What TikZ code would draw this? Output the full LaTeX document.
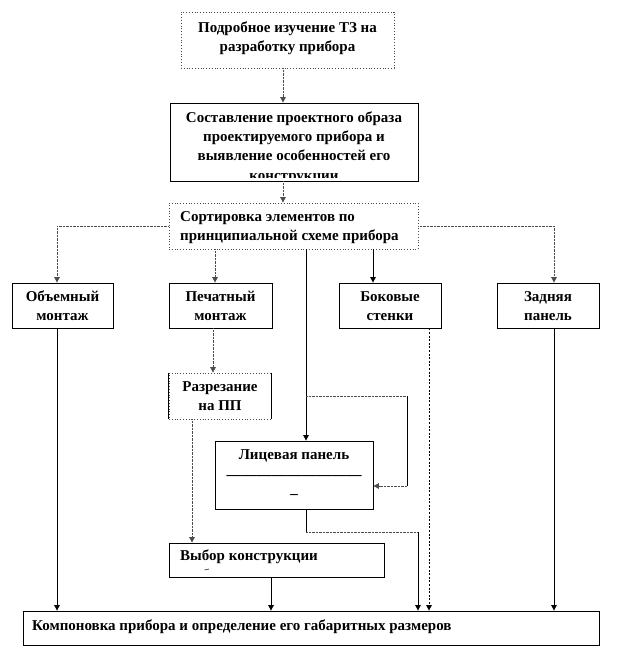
\documentclass[tikz,border=0pt]{standalone}
\usepackage{fontspec}
\setmainfont{Liberation Serif}
\usetikzlibrary{arrows.meta}
\begin{document}
\begin{tikzpicture}[x=1pt,y=-1pt,
  every node/.style={font=\fontsize{15}{19}\selectfont\bfseries, inner sep=0pt},
  box/.style={draw=black, line width=0.8pt, fill=white},
  dbox/.style={draw=black!70, line width=0.8pt, dotted, fill=white},
  ln/.style={line width=0.8pt, black},
  dln/.style={line width=0.8pt, black!70, dash pattern=on 0.8pt off 0.6pt},
  bln/.style={line width=0.8pt, black, dash pattern=on 2pt off 1.6pt},
  arr/.style={-{Triangle[width=5.5pt,length=5.5pt]}},
  lbl/.style={align=center}
]
\useasboundingbox (0,0) rectangle (622,656);
\fill[white] (0,0) rectangle (622,656);

% x positions
\coordinate (x57) at (57,0);
\coordinate (x192) at (192,0);
\coordinate (x213) at (213,0);
\coordinate (x215) at (215,0);
\coordinate (x271) at (271,0);
\coordinate (x283) at (283,0);
\coordinate (x306) at (306,0);
\coordinate (x373) at (373,0);
\coordinate (x418) at (418,0);
\coordinate (x429) at (429,0);
\coordinate (x554) at (554,0);

% boxes
\node[dbox, minimum width=213, minimum height=56] (b1) at (287.5,40) {};
\node[lbl] (t1) at (287.5,38) {Подробное изучение ТЗ на\\разработку прибора};

\node[box, minimum width=248, minimum height=78] (b2) at (294,142) {};
\node[lbl] (t2) at (294,136) {Составление проектного образа\\проектируемого прибора и\\выявление особенностей его};
\begin{scope}
\clip (170,100) rectangle (418,177);
\node[anchor=base] (t2b) at (294,180) {конструкции};
\end{scope}

\node[dbox, minimum width=249, minimum height=46] (b3) at (293.5,226) {};
\node[align=left, anchor=west] (t3) at (180,228) {Сортировка элементов по\\принципиальной схеме прибора};

\node[box, minimum width=101, minimum height=45] (obm) at (62.5,305.5) {};
\node[lbl] (tobm) at (62.5,306) {Объемный\\монтаж};
\node[box, minimum width=103, minimum height=45] (pech) at (220.5,305.5) {};
\node[lbl] (tpech) at (220.5,306) {Печатный\\монтаж};
\node[box, minimum width=102, minimum height=45] (bok) at (390,305.5) {};
\node[lbl] (tbok) at (390,306) {Боковые\\стенки};
\node[box, minimum width=102, minimum height=45] (zad) at (548,305.5) {};
\node[lbl] (tzad) at (548,306) {Задняя\\панель};

\node[dbox, minimum width=102, minimum height=46] (razr) at (220,396) {};
\draw[line width=0.8pt] (razr.north west) -- (razr.south west) (razr.north east) -- (razr.south east);
\node[lbl] (trazr) at (220,396) {Разрезание\\на ПП};

\node[box, minimum width=158, minimum height=68] (lic) at (294,475) {};
\node (tlic) at (294,456) {Лицевая панель};
\node (ulic) at (294,476) {\_\_\_\_\_\_\_\_\_\_\_\_\_\_\_\_\_\_};
\node (dlic) at (294,495) {\_};

\node[box, minimum width=215, minimum height=34] (vyb) at (276.5,560) {};
\node[anchor=west] (tvyb) at (180,557) {Выбор конструкции};
\node[font=\fontsize{9}{9}\selectfont\bfseries, rotate=12] (mvyb) at (207,571) {–};

\node[box, minimum width=576, minimum height=34] (komp) at (311,628) {};
\node[anchor=west] (tkomp) at (32,627) {Компоновка прибора и определение его габаритных размеров};

% connectors
\draw[dln, arr] (b1.south -| x283) -- (b2.north -| x283);
\draw[dln, arr] (b2.south -| x283) -- (b3.north -| x283);
\draw[dln, arr] (b3.west) -| (obm.north -| x57);
\draw[dln, arr] (b3.south -| x215) -- (pech.north -| x215);
\draw[ln, arr] (b3.south -| x306) -- (lic.north -| x306);
\draw[ln, arr] (b3.south -| x373) -- (bok.north -| x373);
\draw[dln, arr] (b3.east) -| (zad.north -| x554);

\coordinate (br1) at (306,396);
\coordinate (br2) at (407,396);
\coordinate (br3) at (407,486);
\draw[dln] (br1) -- (br2);
\draw[ln] (br2) -- (br3);
\draw[dln, arr] (br3) -- (lic.east |- br3);

\draw[ln, arr] (obm.south -| x57) -- (komp.north -| x57);
\draw[dln, arr] (pech.south -| x213) -- (razr.north -| x213);
\draw[dln, arr] (razr.south -| x192) -- (vyb.north -| x192);
\draw[ln, arr] (vyb.south -| x271) -- (komp.north -| x271);

\coordinate (lc1) at (306,532);
\coordinate (lc2) at (418,532);
\draw[ln] (lic.south -| x306) -- (lc1);
\draw[dln] (lc1) -- (lc2);
\draw[ln, arr] (lc2) -- (komp.north -| x418);

\draw[bln, arr] (bok.south -| x429) -- (komp.north -| x429);
\draw[ln, arr] (zad.south -| x554) -- (komp.north -| x554);
\end{tikzpicture}
\end{document}
